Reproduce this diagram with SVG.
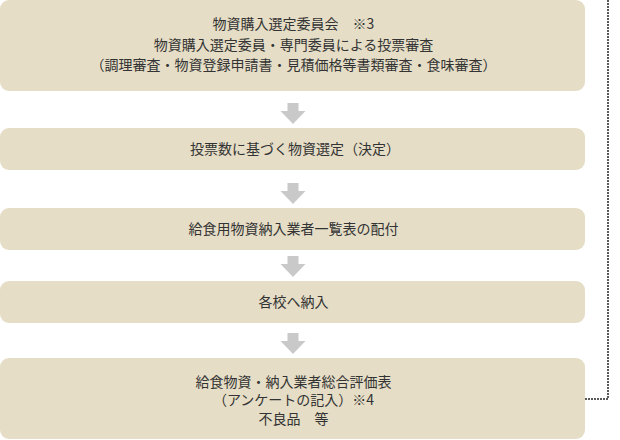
<svg xmlns="http://www.w3.org/2000/svg" width="620" height="440" viewBox="0 0 620 440">
<style>
.box{fill:#e5ddc6;}
.arr{fill:#c9c9c9;}
.lbl{font-family:"Noto Sans CJK JP","Noto Sans",sans-serif;font-size:14px;fill:#333;text-anchor:middle;}
.dot{fill:none;stroke:#5a5a5a;stroke-width:2;stroke-dasharray:2 1;}
</style>
<defs>
<path id="arrow" class="arr" d="M287.5,0 H298.5 V8 H305.5 L293,21 L280.5,8 H287.5 Z"/>
</defs>
<rect width="620" height="440" fill="#ffffff"/>
<g id="connectors">
<use href="#arrow" y="103"/>
<use href="#arrow" y="183"/>
<use href="#arrow" y="256"/>
<use href="#arrow" y="333"/>
<path class="dot" d="M585,399 H608 V0"/>
</g>
<g id="node1">
<rect class="box" x="0" y="0" width="585" height="91" rx="9"/>
<text class="lbl" x="293.5" y="29">物資購入選定委員会　※3</text>
<text class="lbl" x="293.5" y="49.5">物資購入選定委員・専門委員による投票審査</text>
<text class="lbl" x="293.5" y="69.5">（調理審査・物資登録申請書・見積価格等書類審査・食味審査）</text>
</g>
<g id="node2">
<rect class="box" x="0" y="128" width="585" height="42" rx="9"/>
<text class="lbl" x="295" y="154">投票数に基づく物資選定（決定）</text>
</g>
<g id="node3">
<rect class="box" x="0" y="208" width="585" height="42" rx="9"/>
<text class="lbl" x="293.5" y="234">給食用物資納入業者一覧表の配付</text>
</g>
<g id="node4">
<rect class="box" x="0" y="281" width="585" height="42" rx="9"/>
<text class="lbl" x="293.5" y="307">各校へ納入</text>
</g>
<g id="node5">
<rect class="box" x="0" y="358" width="585" height="81" rx="9"/>
<text class="lbl" x="293.5" y="386.5">給食物資・納入業者総合評価表</text>
<text class="lbl" x="293.5" y="405">（アンケートの記入）※4</text>
<text class="lbl" x="293.5" y="424">不良品　等</text>
</g>
</svg>
